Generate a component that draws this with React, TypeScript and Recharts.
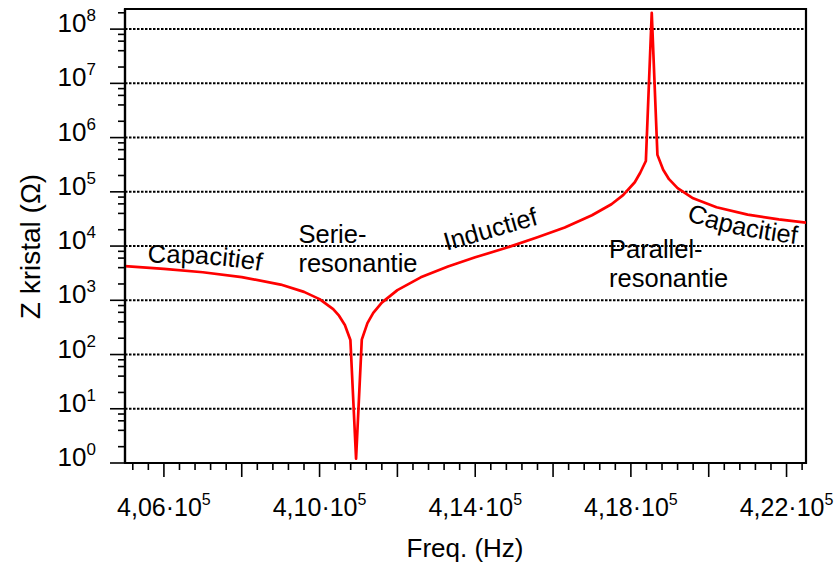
import React from 'react';
import { LineChart, Line, XAxis, YAxis, ReferenceLine, ReferenceArea, ReferenceDot } from 'recharts';

// Frequency (Hz) and crystal impedance (Ohm)
const freqs = [405000, 406000, 407000, 408000, 409000, 409600, 410000, 410350, 410500, 410650, 410792, 410938, 411085, 411230, 411380, 411600, 412000, 412600, 413300, 414000, 414800, 415600, 416300, 417000, 417500, 417800, 418100, 418240, 418385, 418536, 418682, 418830, 418980, 419200, 419600, 420200, 421000, 421800, 422500];
const impedance = [4250, 3800, 3290, 2680, 1950, 1430, 1050, 690, 520, 350, 185, 1.2, 188, 380, 585, 905, 1540, 2650, 4200, 6200, 9300, 14500, 22000, 37000, 59000, 87000, 150000, 225000, 370000, 2.0e8, 480000, 255000, 171000, 117000, 76000, 52000, 38000, 31000, 27000];

const xDomain = [405000, 422500];
const yDomain = [1, 2.35e8];
const xTicks: number[] = [];
for (let v = 405200; v <= 422400; v += 400) xTicks.push(v);
const xLabelValues = [406000, 410000, 414000, 418000, 422000];
const decades = [1, 10, 100, 1e3, 1e4, 1e5, 1e6, 1e7, 1e8];
const minorMultipliers = [2, 4, 6, 8];
const gridValues = [10, 100, 1e3, 1e4, 1e5, 1e6, 1e7, 1e8];

const yTicks: number[] = [];
decades.forEach((d) => {
  yTicks.push(d);
  minorMultipliers.forEach((m) => {
    if (d * m <= yDomain[1]) yTicks.push(d * m);
  });
});

const annotations = [
  { lines: ['Serie-', 'resonantie'], f: 409457, z: 11500 },
  { lines: ['Parallel-', 'resonantie'], f: 417440, z: 6085 },
];
const rotatedLabels = [{ text: 'Inductief', f: 413260, z: 8190, angle: -16 }];
const curvedLabels = [
  { text: 'Capacitief', f: 405582, z: 4920, path: 'M0 0 Q68 -1 122 10' },
  { text: 'Capacitief', f: 419420, z: 30540, path: 'M0 0 Q43 17 124 26' },
];

const FONT = '"Liberation Sans", Arial, sans-serif';
const data = freqs.map((f, i) => ({ f, z: impedance[i] }));

const XTick = (props: any) => {
  const { x, y, payload } = props;
  const v = payload.value;
  const major = v % 2000 === 0;
  const labeled = xLabelValues.includes(v);
  const txt = (v / 1e5).toFixed(2).replace('.', ',') + '·10';
  return (
    <g>
      <line x1={x} x2={x} y1={y} y2={y + (major ? 14 : 7)} stroke="#000" strokeWidth={1.6} />
      {labeled && (
        <text x={x} y={y + 53} textAnchor="middle" fontSize={25} fontFamily={FONT} fill="#000">
          {txt}
          <tspan dy={-11} fontSize={16}>5</tspan>
        </text>
      )}
    </g>
  );
};

const YTick = (props: any) => {
  const { x, y, payload } = props;
  const v = payload.value;
  const lg = Math.log10(v);
  const e = Math.round(lg);
  const major = Math.abs(lg - e) < 1e-6;
  return (
    <g>
      <line x1={x} x2={x - (major ? 15 : 7)} y1={y} y2={y} stroke="#000" strokeWidth={1.6} />
      {major && (
        <text x={x - 29} y={y + 3} textAnchor="end" fontSize={26} fontFamily={FONT} fill="#000">
          10
          <tspan dy={-11} fontSize={17}>{e}</tspan>
        </text>
      )}
    </g>
  );
};

const YTitle = (props: any) => {
  const vb = props.viewBox || { x: 0, y: 0 };
  const cx = vb.x + 40;
  const cy = 246.5;
  return (
    <text x={cx} y={cy} transform={`rotate(-90 ${cx} ${cy})`} textAnchor="middle" fontSize={28} fontFamily={FONT} fill="#000">
      Z kristal (Ω)
    </text>
  );
};

const XTitle = (props: any) => {
  const vb = props.viewBox || { x: 0, y: 0, width: 0, height: 0 };
  return (
    <text x={465} y={vb.y + vb.height - 7} textAnchor="middle" fontSize={26} fontFamily={FONT} fill="#000">
      Freq. (Hz)
    </text>
  );
};

const multiLine = (lines: string[]) => (props: any) => {
  const vb = props.viewBox || { x: 0, y: 0 };
  return (
    <text x={vb.x} y={vb.y} fontSize={25.5} fontFamily={FONT} fill="#000">
      {lines.map((l, i) => (
        <tspan key={i} x={vb.x} dy={i === 0 ? 0 : 29}>{l}</tspan>
      ))}
    </text>
  );
};

const rotated = (text: string, angle: number) => (props: any) => {
  const vb = props.viewBox || { x: 0, y: 0 };
  return (
    <text x={vb.x} y={vb.y} transform={`rotate(${angle} ${vb.x} ${vb.y})`} fontSize={25.5} fontFamily={FONT} fill="#000">
      {text}
    </text>
  );
};

const curved = (text: string, path: string, id: string) => (props: any) => {
  const vb = props.viewBox || { x: 0, y: 0 };
  return (
    <g transform={`translate(${vb.x} ${vb.y})`}>
      <defs>
        <path id={id} d={path} fill="none" />
      </defs>
      <text fontSize={25.5} fontFamily={FONT} fill="#000">
        <textPath href={`#${id}`}>{text}</textPath>
      </text>
    </g>
  );
};

export default function App() {
  return (
    <div style={{ position: 'absolute', left: 0, top: 0, width: 838, height: 564, background: '#fff' }}>
      <LineChart width={838} height={564} data={data} margin={{ top: 9, right: 32, left: 0, bottom: 0 }}>
        <XAxis
          dataKey="f"
          type="number"
          domain={xDomain}
          allowDataOverflow
          ticks={xTicks}
          interval={0}
          tick={<XTick />}
          tickLine={false}
          tickSize={0}
          tickMargin={0}
          height={101}
          axisLine={{ stroke: '#000', strokeWidth: 2.2 }}
          label={<XTitle />}
        />
        <YAxis
          dataKey="z"
          scale="log"
          type="number"
          domain={yDomain}
          allowDataOverflow
          ticks={yTicks}
          interval={0}
          tick={<YTick />}
          tickLine={false}
          tickSize={0}
          tickMargin={0}
          width={125}
          axisLine={{ stroke: '#000', strokeWidth: 2.2 }}
          label={<YTitle />}
        />
        {gridValues.map((g) => (
          <ReferenceLine key={g} y={g} stroke="#000" strokeWidth={2} strokeDasharray="2.5 1.5" />
        ))}
        <ReferenceArea x1={xDomain[0]} x2={xDomain[1]} y1={yDomain[0]} y2={yDomain[1]} fill="none" fillOpacity={0} stroke="#000" strokeWidth={2.2} />
        {annotations.map((a, i) => (
          <ReferenceDot key={'a' + i} x={a.f} y={a.z} r={0} fill="none" stroke="none" label={multiLine(a.lines)} />
        ))}
        {rotatedLabels.map((a, i) => (
          <ReferenceDot key={'r' + i} x={a.f} y={a.z} r={0} fill="none" stroke="none" label={rotated(a.text, a.angle)} />
        ))}
        {curvedLabels.map((a, i) => (
          <ReferenceDot key={'c' + i} x={a.f} y={a.z} r={0} fill="none" stroke="none" label={curved(a.text, a.path, 'cp' + i)} />
        ))}
        <Line
          type="linear"
          dataKey="z"
          stroke="#ff0000"
          strokeWidth={2.7}
          dot={false}
          strokeLinejoin="round"
          isAnimationActive={false}
        />
      </LineChart>
    </div>
  );
}
